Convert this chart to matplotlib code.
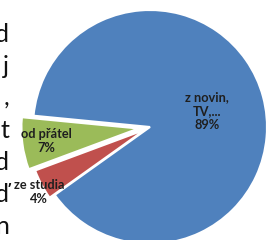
import matplotlib.pyplot as plt

# pie data (shares as plotted; labels show them rounded)
sources = ["z novin,\nTV,...", "od přátel", "ze studia"]
shares = [88.6, 7.2, 4.2]
colors = ["#4F81BD", "#9BBB59", "#C0504D"]
explode = [0.0, 0.10, 0.05]  # fraction of the radius

# clipped body text along the left edge (only line ends are visible)
side_chars = ["d", "j", ",", "t", "d", "ď", "n"]

W, H = 267, 240
R = 117


def py(y):
    # pixel row (from top) -> data y
    return H - y


fig = plt.figure(figsize=(W / 100, H / 100), dpi=100)
ax = fig.add_axes([0, 0, 1, 1])

# matplotlib offsets exploded wedges in data units, so scale by the radius
ax.pie(shares, colors=colors, explode=[e * R for e in explode],
       startangle=215.5, counterclock=True, center=(150, py(127)), radius=R,
       wedgeprops=dict(edgecolor="white", linewidth=1.5), frame=True)
ax.set_xlim(0, W)
ax.set_ylim(0, H)
ax.set_aspect("equal")
ax.axis("off")

label_pos = [(207, 111), (46, 141), (39, 192)]
for name, val, (x, y) in zip(sources, shares, label_pos):
    ax.text(x, py(y), f"{name}\n{round(val)}%", ha="center", va="center",
            fontsize=9.2, fontweight="bold", family="Lato", color="#1f1f1f",
            linespacing=1.2)

for i, ch in enumerate(side_chars):
    ax.text(9, py(42 + 32 * i), ch, ha="right", va="baseline",
            fontsize=18, family="Lato", color="#111111")

fig.savefig("out.png", dpi=100)
